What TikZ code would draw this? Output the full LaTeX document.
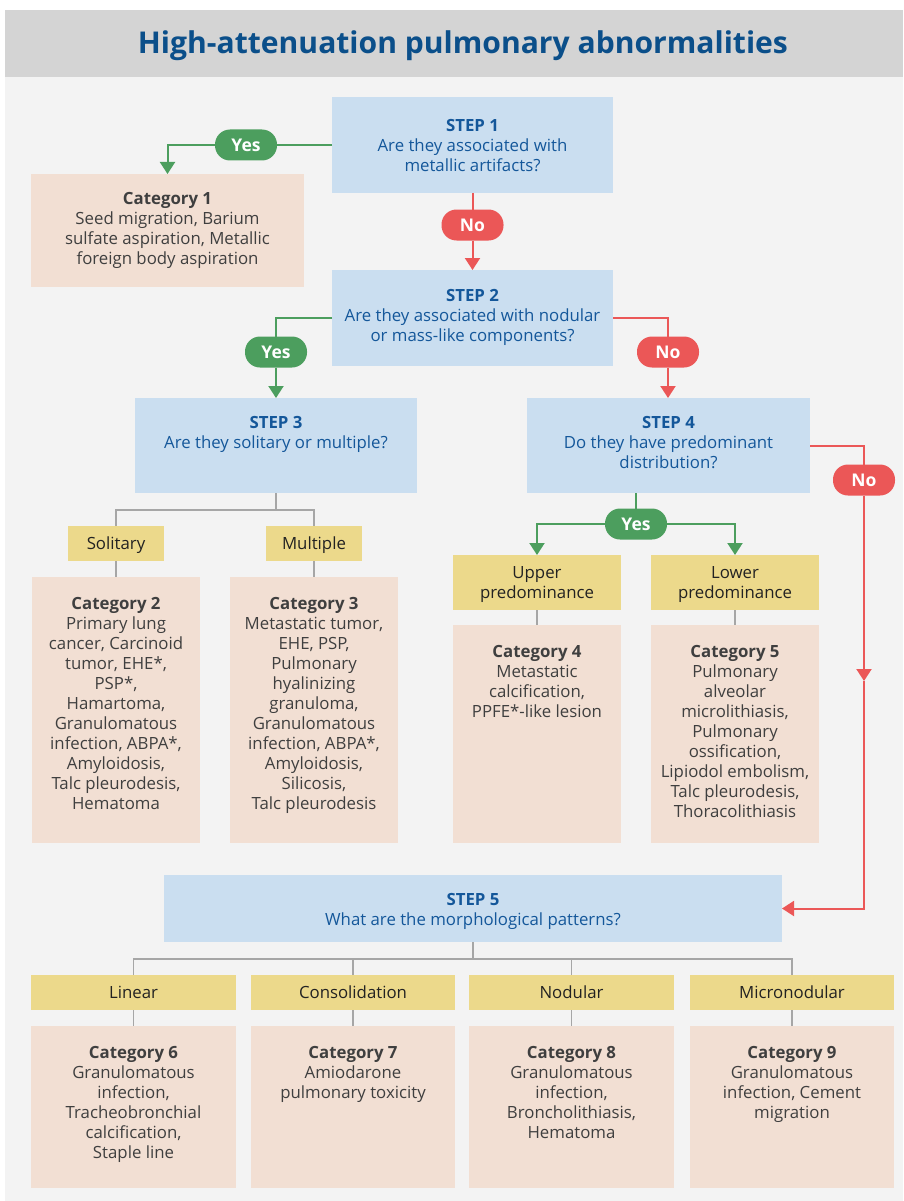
\documentclass[tikz,border=0pt]{standalone}
\usepackage{fontspec}
\setmainfont{Open Sans}
\usepackage{graphicx}
\usetikzlibrary{arrows.meta}
\definecolor{titlebg}{HTML}{D4D4D4}
\definecolor{pagebg}{HTML}{F3F3F3}
\definecolor{titleblue}{HTML}{0B4F8A}
\definecolor{stepfill}{HTML}{CADEF0}
\definecolor{steptext}{HTML}{14579A}
\definecolor{catfill}{HTML}{F2DFD3}
\definecolor{cattext}{HTML}{3F3F3F}
\definecolor{yelfill}{HTML}{ECD98B}
\definecolor{yeltext}{HTML}{222222}
\definecolor{yesgreen}{HTML}{4C9E5E}
\definecolor{nored}{HTML}{EB5757}
\definecolor{linkgray}{HTML}{A6A6A6}
\begin{document}
\begin{tikzpicture}[x=1pt,y=-1pt,
  boxbase/.style={inner sep=0pt, outer sep=0pt, draw=none},
  stepbox/.style={boxbase, fill=stepfill},
  catbox/.style={boxbase, fill=catfill},
  yelbox/.style={boxbase, fill=yelfill, align=center, text depth=0pt, text=yeltext, font=\fontsize{16.8}{20}\selectfont},
  steptxt/.style={inner sep=0pt, anchor=north, align=center, text=steptext, font=\fontsize{16.8}{20}\selectfont},
  cattxt/.style={inner sep=0pt, anchor=north, align=center, text=cattext, font=\fontsize{16.8}{20}\selectfont},
  pill/.style={boxbase, rounded corners=15pt, minimum width=62pt, minimum height=31pt, text=white, font=\bfseries\fontsize{17.5}{20}\selectfont},
  yespill/.style={pill, fill=yesgreen},
  nopill/.style={pill, fill=nored},
  gline/.style={draw=yesgreen, line width=2pt},
  rline/.style={draw=nored, line width=2pt},
  tip/.style={-{Triangle[width=15pt,length=12pt]}},
  glink/.style={draw=linkgray, line width=1.6pt}
]
\useasboundingbox (0,0) rectangle (903,1201);
% backgrounds
\fill[white] (0,0) rectangle (903,1201);
\fill[pagebg] (5,77) rectangle (903,1201);
\fill[titlebg] (5,10) rectangle (903,77);
\node[inner sep=0pt, anchor=base, text=titleblue, font=\bfseries\fontsize{30}{34}\selectfont] (title) at (463,53.5)
  {\resizebox{650pt}{\height}{High-attenuation pulmonary abnormalities}};

% step boxes
\node[stepbox, minimum width=281pt, minimum height=96pt] (step1) at (472.5,145) {};
\node[steptxt] (step1t) at (472.5,119) {\textbf{STEP 1}\\Are they associated with\\metallic artifacts?};
\node[stepbox, minimum width=281pt, minimum height=96pt] (step2) at (472.5,318) {};
\node[steptxt] (step2t) at (472.5,289) {\textbf{STEP 2}\\Are they associated with nodular\\or mass-like components?};
\node[stepbox, minimum width=282pt, minimum height=95pt] (step3) at (276,445.5) {};
\node[steptxt] (step3t) at (276,416) {\textbf{STEP 3}\\Are they solitary or multiple?};
\node[stepbox, minimum width=283pt, minimum height=95pt] (step4) at (668.5,445.5) {};
\node[steptxt] (step4t) at (668.5,416) {\textbf{STEP 4}\\Do they have predominant\\distribution?};
\node[stepbox, minimum width=618pt, minimum height=67pt] (step5) at (473,908.5) {};
\node[steptxt] (step5t) at (473,893) {\textbf{STEP 5}\\What are the morphological patterns?};

% category boxes
\node[catbox, minimum width=273pt, minimum height=113pt] (cat1) at (167.5,230.5) {};
\node[cattxt] (cat1t) at (167.5,192) {\textbf{Category 1}\\Seed migration, Barium\\sulfate aspiration, Metallic\\foreign body aspiration};
\node[catbox, minimum width=168pt, minimum height=266pt] (cat2) at (116,710) {};
\node[cattxt] (cat2t) at (116,597) {\textbf{Category 2}\\Primary lung\\cancer, Carcinoid\\tumor, EHE*,\\PSP*,\\Hamartoma,\\Granulomatous\\infection, ABPA*,\\Amyloidosis,\\Talc pleurodesis,\\Hematoma};
\node[catbox, minimum width=168pt, minimum height=266pt] (cat3) at (314,710) {};
\node[cattxt] (cat3t) at (314,597) {\textbf{Category 3}\\Metastatic tumor,\\EHE, PSP,\\Pulmonary\\hyalinizing\\granuloma,\\Granulomatous\\infection, ABPA*,\\Amyloidosis,\\Silicosis,\\Talc pleurodesis};
\node[catbox, minimum width=168pt, minimum height=218pt] (cat4) at (537,734) {};
\node[cattxt] (cat4t) at (537,645) {\textbf{Category 4}\\Metastatic\\calcification,\\PPFE*-like lesion};
\node[catbox, minimum width=168pt, minimum height=218pt] (cat5) at (735,734) {};
\node[cattxt] (cat5t) at (735,645) {\textbf{Category 5}\\Pulmonary\\alveolar\\microlithiasis,\\Pulmonary\\ossification,\\Lipiodol embolism,\\Talc pleurodesis,\\Thoracolithiasis};
\node[catbox, minimum width=205pt, minimum height=162pt] (cat6) at (133.5,1107) {};
\node[cattxt] (cat6t) at (133.5,1046) {\textbf{Category 6}\\Granulomatous\\infection,\\Tracheobronchial\\calcification,\\Staple line};
\node[catbox, minimum width=204pt, minimum height=162pt] (cat7) at (353,1107) {};
\node[cattxt] (cat7t) at (353,1046) {\textbf{Category 7}\\Amiodarone\\pulmonary toxicity};
\node[catbox, minimum width=205pt, minimum height=162pt] (cat8) at (571.5,1107) {};
\node[cattxt] (cat8t) at (571.5,1046) {\textbf{Category 8}\\Granulomatous\\infection,\\Broncholithiasis,\\Hematoma};
\node[catbox, minimum width=204pt, minimum height=162pt] (cat9) at (792,1107) {};
\node[cattxt] (cat9t) at (792,1046) {\textbf{Category 9}\\Granulomatous\\infection, Cement\\migration};

% yellow boxes
\node[yelbox, minimum width=96pt, minimum height=35pt] (solitary) at (116,543.5) {Solitary};
\node[yelbox, minimum width=96pt, minimum height=35pt] (multiple) at (314,543.5) {Multiple};
\node[yelbox, minimum width=168pt, minimum height=55pt] (upper) at (537,582.5) {Upper\\predominance};
\node[yelbox, minimum width=168pt, minimum height=55pt] (lower) at (735,582.5) {Lower\\predominance};
\node[yelbox, minimum width=205pt, minimum height=35pt] (linear) at (133.5,992.5) {Linear};
\node[yelbox, minimum width=204pt, minimum height=35pt] (consol) at (353,992.5) {Consolidation};
\node[yelbox, minimum width=205pt, minimum height=35pt] (nodular) at (571.5,992.5) {Nodular};
\node[yelbox, minimum width=204pt, minimum height=35pt] (micro) at (792,992.5) {Micronodular};

% pills
\node[yespill] (yes1) at (246,145) {Yes};
\node[nopill] (no1) at (472.5,225) {No};
\node[yespill] (yes2) at (276,352) {Yes};
\node[nopill] (no2) at (668,352) {No};
\node[yespill] (yes3) at (636,524) {Yes};
\node[nopill] (no3) at (864,480) {No};

% coloured connectors
\draw[gline] (step1.west) -- (yes1.east);
\draw[gline, tip] (yes1.west) -| (cat1.north);
\draw[rline] (step1.south) -- (no1.north);
\draw[rline, tip] (no1.south) -- (step2.north);
\draw[gline] (step2.west) -| (yes2.north);
\draw[gline, tip] (yes2.south) -- (step3.north);
\draw[rline] (step2.east) -| (no2.north);
\draw[rline, tip] (no2.south) -- (step4.north -| no2.south);
\draw[gline] (step4.south -| yes3.north) -- (yes3.north);
\draw[gline, tip] (yes3.west) -| (upper.north);
\draw[gline, tip] (yes3.east) -| (lower.north);
\draw[rline] (step4.east) -| (no3.north);
\coordinate (mid) at (864,681);
\draw[rline, tip] (no3.south) -- (mid);
\draw[rline, tip] (mid) |- (step5.east);

% grey connectors
\coordinate (j3) at (276,510);
\draw[glink] (step3.south) -- (j3);
\draw[glink] (j3) -| (solitary.north);
\draw[glink] (j3) -| (multiple.north);
\draw[glink] (solitary.south) -- (cat2.north);
\draw[glink] (multiple.south) -- (cat3.north);
\draw[glink] (upper.south) -- (cat4.north);
\draw[glink] (lower.south) -- (cat5.north);
\coordinate (j5) at (473,959);
\draw[glink] (step5.south) -- (j5);
\draw[glink] (j5) -| (linear.north);
\draw[glink] (j5) -| (consol.north);
\draw[glink] (j5) -| (nodular.north);
\draw[glink] (j5) -| (micro.north);
\draw[glink] (linear.south) -- (cat6.north);
\draw[glink] (consol.south) -- (cat7.north);
\draw[glink] (nodular.south) -- (cat8.north);
\draw[glink] (micro.south) -- (cat9.north);
\end{tikzpicture}
\end{document}
